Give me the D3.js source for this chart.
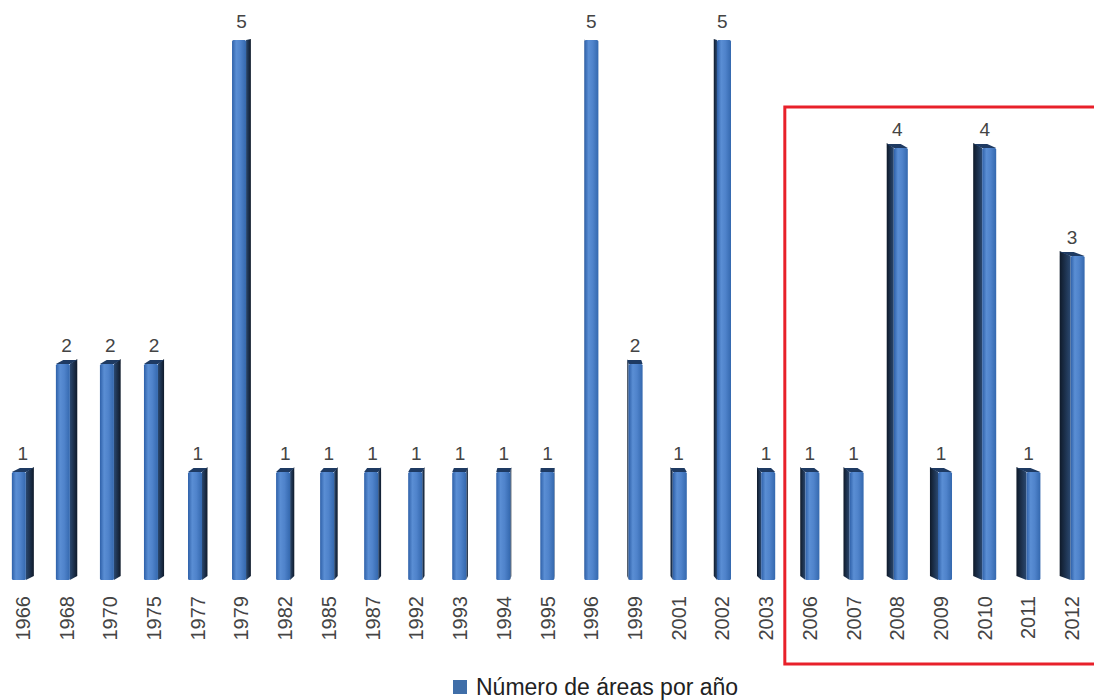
<!DOCTYPE html>
<html>
<head>
<meta charset="utf-8">
<script src="https://cdn.jsdelivr.net/npm/d3@7"></script>
<style>
  html, body { margin: 0; padding: 0; background: #fff; }
  svg { display: block; }
  text { font-family: "Liberation Sans", Arial, Helvetica, sans-serif; }
</style>
</head>
<body>
<svg id="chart" width="1094" height="700"></svg>
<script>
const years = ["1966","1968","1970","1975","1977","1979","1982","1985","1987","1992","1993","1994","1995","1996","1999","2001","2002","2003","2006","2007","2008","2009","2010","2011","2012"];
const values = [1,2,2,2,1,5,1,1,1,1,1,1,1,5,2,1,5,1,1,1,4,1,4,1,3];
const seriesName = "Número de áreas por año";
const highlightYears = ["2006","2012"];

const svg = d3.select("#chart");
const W = 1094, H = 700;
const baseY = 580, topY = 40;

const x = d3.scaleBand().domain(years).range([1, 1094]).padding(0);
const y = d3.scaleLinear().domain([0, 5]).range([baseY, topY]);

const defs = svg.append("defs");
const gFront = defs.append("linearGradient").attr("id", "front").attr("x1", "0").attr("x2", "1").attr("y1", "0").attr("y2", "0");
[["0%", "#2e60a8"], ["30%", "#5a8ed4"], ["60%", "#4f83cb"], ["100%", "#3468ae"]].forEach(s => gFront.append("stop").attr("offset", s[0]).attr("stop-color", s[1]));
const gSideR = defs.append("linearGradient").attr("id", "sideR").attr("x1", "0").attr("x2", "1").attr("y1", "0").attr("y2", "0");
[["0%", "#2a4870"], ["100%", "#0f1a2a"]].forEach(s => gSideR.append("stop").attr("offset", s[0]).attr("stop-color", s[1]));
const gSideL = defs.append("linearGradient").attr("id", "sideL").attr("x1", "0").attr("x2", "1").attr("y1", "0").attr("y2", "0");
[["0%", "#0f1a2a"], ["100%", "#2a4870"]].forEach(s => gSideL.append("stop").attr("offset", s[0]).attr("stop-color", s[1]));

const vp = 575;
function sideWidth(cx) {
  const d = cx - vp;
  return d < 0 ? d * 0.0145 : d * 0.022;
}
const frontW = 14;
const dy = 4;

const bars = svg.append("g").selectAll("g.bar")
  .data(years.map((yr, i) => ({ yr, v: values[i] })))
  .join("g").attr("class", "bar");

bars.each(function(d) {
  const g = d3.select(this);
  const cx = x(d.yr) + x.bandwidth() / 2;
  const s = sideWidth(cx);            // negative => side on the right
  const total = frontW + Math.abs(s);
  const left = cx - total / 2;
  let fL, fR;
  if (s < 0) { fL = left; fR = left + frontW; } else { fL = left + s; fR = fL + frontW; }
  const top = y(d.v), bot = y(0);
  const capH = Math.max(0, Math.min(dy, (top - topY) / 108 * 4));
  const offX = -s; // back offset
  // side face
  if (Math.abs(s) > 0.3) {
    const edgeX = s < 0 ? fR : fL;
    const pts = [[edgeX, top], [edgeX + offX, top - capH - 1], [edgeX + offX, bot - dy], [edgeX, bot]];
    g.append("path").attr("d", d3.line()(pts) + "Z").attr("fill", s < 0 ? "url(#sideR)" : "url(#sideL)");
  }
  // top cap
  if (capH > 0.3) {
    const pts = [[fL, top], [fR, top], [fR + offX, top - capH], [fL + offX, top - capH]];
    g.append("path").attr("d", d3.line()(pts) + "Z").attr("fill", "#1e3a62");
  }
  // front face
  g.append("rect").attr("x", fL).attr("y", top).attr("width", frontW).attr("height", bot - top)
    .attr("fill", "url(#front)").attr("rx", 1.5);
  // value label
  g.append("text").attr("x", cx).attr("y", top - 12).attr("text-anchor", "middle")
    .attr("font-size", 19).attr("fill", "#444").text(d.v);
});

// x axis labels (rotated)
const axis = d3.axisBottom(x).tickSize(0).tickPadding(0);
const ax = svg.append("g").attr("transform", `translate(0,${596})`).call(axis);
ax.select(".domain").remove();
ax.selectAll(".tick text")
  .attr("transform", "rotate(-90)")
  .attr("text-anchor", "end")
  .attr("x", 0).attr("y", 0).attr("dy", "0.35em")
  .attr("font-size", 20).attr("fill", "#444")
  .attr("font-family", "Liberation Sans, Arial, sans-serif");

// highlight box
const bx0 = x(highlightYears[0]) + x.bandwidth() / 2 - 25;
svg.append("rect").attr("x", bx0).attr("y", 107).attr("width", 1096 - bx0 + 10).attr("height", 557)
  .attr("fill", "none").attr("stroke", "#e8202a").attr("stroke-width", 3);

// legend
const leg = svg.append("g").attr("transform", "translate(453,680)");
leg.append("rect").attr("width", 14).attr("height", 14).attr("fill", "#3f6ea8");
leg.append("text").attr("x", 23).attr("y", 15).attr("font-size", 23).attr("fill", "#222").text(seriesName);
</script>
</body>
</html>
